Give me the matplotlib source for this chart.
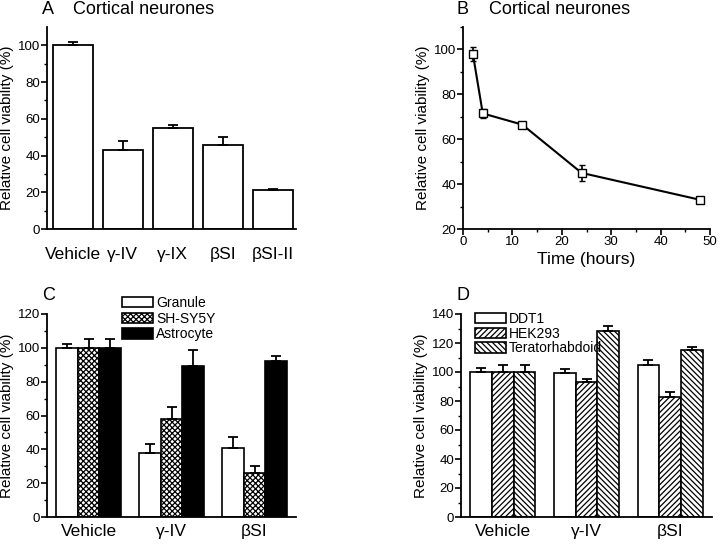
import numpy as np
import matplotlib
matplotlib.use('Agg')
import matplotlib.pyplot as plt

plt.rcParams['font.family'] = ['Liberation Sans', 'DejaVu Sans']
plt.rcParams['hatch.linewidth'] = 0.9

# panel A: cortical neurones, inhibitors
a_labels = ['Vehicle', 'γ-IV', 'γ-IX', 'βSI', 'βSI-II']
a_vals = [100, 43, 55, 46, 21]
a_err = [2, 5, 1.5, 4, 1]

# panel B: time course
b_time = [2, 4, 12, 24, 48]
b_vals = [98, 71.5, 66.5, 45, 33]
b_err = [3, 2, 1, 3.5, 1]

# panel C
c_groups = ['Vehicle', 'γ-IV', 'βSI']
c_series = ['Granule', 'SH-SY5Y', 'Astrocyte']
c_vals = [[100, 38, 41], [100, 58, 26], [100, 89, 92]]
c_err = [[2, 5, 6], [5, 7, 4], [5, 10, 3]]

# panel D
d_groups = ['Vehicle', 'γ-IV', 'βSI']
d_series = ['DDT1', 'HEK293', 'Teratorhabdoid']
d_vals = [[100, 99, 105], [100, 93, 83], [100, 128, 115]]
d_err = [[3, 3, 3], [5, 2, 3], [5, 4, 2]]

ylab = 'Relative cell viability (%)'
W, H = 720, 551


def axpos(l, r, b, t):
    return [l / W, 1 - b / H, (r - l) / W, (b - t) / H]


def style(ax):
    for s in ['top', 'right']:
        ax.spines[s].set_visible(False)
    for s in ['left', 'bottom']:
        ax.spines[s].set_linewidth(1.3)
    ax.tick_params(axis='both', which='major', direction='out', length=4,
                   width=1.2, labelsize=9.5, pad=1)
    ax.tick_params(axis='both', which='minor', direction='out', length=2,
                   width=1)


fig = plt.figure(figsize=(7.2, 5.51), dpi=100)

# A
ax = fig.add_axes(axpos(47, 296, 229, 27))
x = np.arange(len(a_labels))
ax.bar(x, a_vals, 0.8, color='white', edgecolor='black', linewidth=1.3,
       yerr=[np.zeros(len(a_err)), a_err], capsize=3.5,
       error_kw=dict(elinewidth=1.3, capthick=1.3))
ax.set_xlim(-0.52, 4.47)
ax.set_ylim(0, 110)
ax.set_yticks(range(0, 101, 20))
ax.set_yticks(range(10, 110, 20), minor=True)
style(ax)
ax.set_xticks(x)
ax.set_xticklabels(a_labels, fontsize=12.5)
ax.tick_params(axis='x', length=0, pad=13)
ax.set_ylabel(ylab, fontsize=11, labelpad=3)
fig.text(42 / W, 1 - 9 / H, 'A    Cortical neurones', fontsize=13, va='center')

# B
ax = fig.add_axes(axpos(463, 710, 229, 27))
ax.errorbar(b_time, b_vals, yerr=b_err, color='black', linewidth=1.5,
            marker='s', markersize=5.5, markerfacecolor='white',
            markeredgecolor='black', markeredgewidth=1, capsize=2.5,
            elinewidth=1.2, capthick=1.2)
ax.set_xlim(0, 50)
ax.set_ylim(20, 110)
ax.set_xticks(range(0, 51, 10))
ax.set_xticks(range(5, 50, 10), minor=True)
ax.set_yticks(range(20, 101, 20))
ax.set_yticks(range(30, 111, 20), minor=True)
style(ax)
ax.set_xlabel('Time (hours)', fontsize=12.5, labelpad=3)
ax.set_ylabel(ylab, fontsize=11, labelpad=3)
fig.text(457 / W, 1 - 9 / H, 'B    Cortical neurones', fontsize=13, va='center')


def grouped(ax, groups, series, vals, errs, faces, hatches, ylim, step):
    x = np.arange(len(groups))
    w = 0.26
    for i, (s, v, e) in enumerate(zip(series, vals, errs)):
        ax.bar(x + (i - 1) * w, v, w, color=faces[i], edgecolor='black',
               hatch=hatches[i], linewidth=1.2, label=s,
               yerr=[np.zeros(len(e)), e], capsize=3.5,
               error_kw=dict(elinewidth=1.3, capthick=1.3, ecolor='black'))
    ax.set_xlim(-0.5, 2.5)
    ax.set_ylim(0, ylim)
    ax.set_yticks(range(0, ylim + 1, step))
    ax.set_yticks(range(step // 2, ylim, step), minor=True)
    style(ax)
    ax.set_xticks(x)
    ax.set_xticklabels(groups, fontsize=12.5)
    ax.tick_params(axis='x', length=0, pad=5)
    ax.set_ylabel(ylab, fontsize=11, labelpad=3)


# C
ax = fig.add_axes(axpos(47, 296, 517, 314))
grouped(ax, c_groups, c_series, c_vals, c_err,
        ['white', 'white', 'black'], ['', 'xxxxxx', ''], 120, 20)
ax.legend(loc='upper left', bbox_to_anchor=(122 / W, 1 - 296 / H),
          bbox_transform=fig.transFigure, frameon=False, fontsize=10,
          handlelength=2.2, handleheight=0.75, handletextpad=0.25,
          labelspacing=0.12, borderpad=0, borderaxespad=0)
fig.text(42 / W, 1 - 295 / H, 'C', fontsize=13, va='center')

# D
ax = fig.add_axes(axpos(461, 712, 517, 314))
grouped(ax, d_groups, d_series, d_vals, d_err,
        ['white', 'white', 'white'], ['', '//////', '\\\\\\\\\\\\'], 140, 20)
ax.legend(loc='upper left', bbox_to_anchor=(475 / W, 1 - 312 / H),
          bbox_transform=fig.transFigure, frameon=False, fontsize=10,
          handlelength=2.2, handleheight=0.75, handletextpad=0.25,
          labelspacing=0.05, borderpad=0, borderaxespad=0)
fig.text(457 / W, 1 - 295 / H, 'D', fontsize=13, va='center')

fig.savefig('out.png', dpi=100)
